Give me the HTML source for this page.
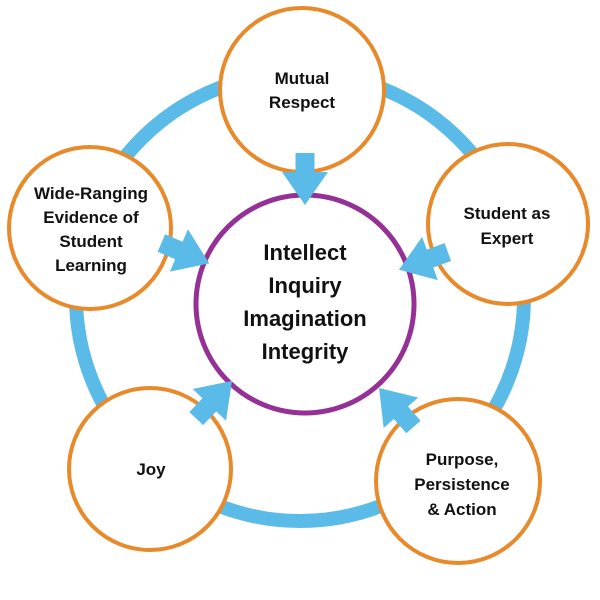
<!DOCTYPE html>
<html><head><style>body{margin:0;background:#fff}svg{display:block}</style></head><body>
<svg width="600" height="600" viewBox="0 0 600 600" xmlns="http://www.w3.org/2000/svg" font-family="'Liberation Sans',sans-serif" font-weight="bold" text-anchor="middle" fill="#111">
<circle cx="300" cy="297" r="224" fill="none" stroke="#5bbbe8" stroke-width="14"/>
<g fill="#fff" stroke="#e8892a" stroke-width="4">
<circle cx="302" cy="90" r="82"/>
<circle cx="508" cy="224" r="80"/>
<circle cx="90" cy="228" r="81"/>
<circle cx="150" cy="469" r="81"/>
<circle cx="458" cy="481" r="82"/>
</g>
<circle cx="305" cy="304" r="109" fill="#fff" stroke="#943096" stroke-width="5"/>
<g fill="#5bbbe8">
<polygon transform="translate(305,304) rotate(0)" points="0,-99 -23,-132 -9.5,-132 -9.5,-151 9.5,-151 9.5,-132 23,-132"/>
<polygon transform="translate(305,304) rotate(-67)" points="0,-104 -23,-137 -9.5,-137 -9.5,-156 9.5,-156 9.5,-137 23,-137"/>
<polygon transform="translate(305,304) rotate(70)" points="0,-100 -23,-133 -9.5,-133 -9.5,-152 9.5,-152 9.5,-133 23,-133"/>
<polygon transform="translate(305,304) rotate(-136.5)" points="0,-106 -23,-139 -9.5,-139 -9.5,-158 9.5,-158 9.5,-139 23,-139"/>
<polygon transform="translate(305,304) rotate(138.6)" points="0,-112 -23,-145 -9.5,-145 -9.5,-164 9.5,-164 9.5,-145 23,-145"/>
</g>
<g font-size="22">
<text x="305" y="260">Intellect</text>
<text x="305" y="293">Inquiry</text>
<text x="305" y="326">Imagination</text>
<text x="305" y="359">Integrity</text>
</g>
<g font-size="17">
<text x="302" y="84">Mutual</text>
<text x="302" y="108">Respect</text>
<text x="507" y="219">Student as</text>
<text x="507" y="244">Expert</text>
<text x="91" y="199">Wide-Ranging</text>
<text x="91" y="223">Evidence of</text>
<text x="91" y="247">Student</text>
<text x="91" y="271">Learning</text>
<text x="151" y="475">Joy</text>
<text x="462" y="465">Purpose,</text>
<text x="462" y="490">Persistence</text>
<text x="462" y="515">&amp; Action</text>
</g>
</svg>
</body></html>
